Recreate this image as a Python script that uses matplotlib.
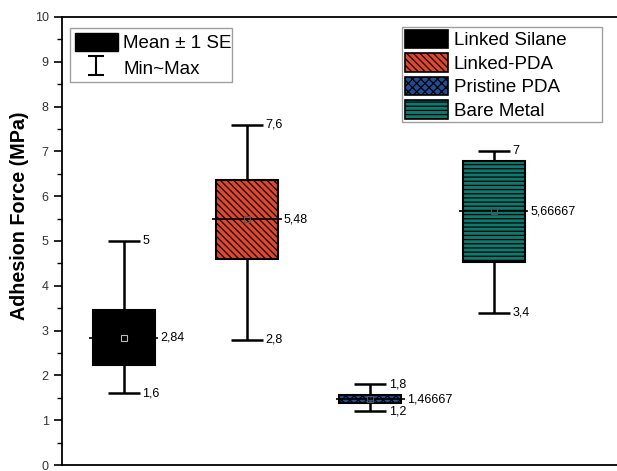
import matplotlib
matplotlib.use("Agg")
import matplotlib.pyplot as plt
from matplotlib.patches import Patch
from matplotlib.ticker import MultipleLocator

plt.rcParams['font.family'] = ['Liberation Sans', 'DejaVu Sans']
plt.rcParams['hatch.linewidth'] = 0.9

categories = ["Linked Silane", "Linked-PDA", "Pristine PDA", "Bare Metal"]
means = [2.84, 5.48, 1.46667, 5.66667]
se = [0.61, 0.88, 0.09, 1.13]
mins = [1.6, 2.8, 1.2, 3.4]
maxs = [5.0, 7.6, 1.8, 7.0]
mean_labels = ["2,84", "5,48", "1,46667", "5,66667"]
min_labels = ["1,6", "2,8", "1,2", "3,4"]
max_labels = ["5", "7,6", "1,8", "7"]
colors = ["#000000", "#E2462B", "#1E4E96", "#0D7A70"]
hatches = [None, "\\\\\\\\\\", "xxxx", "----"]

fig = plt.figure(figsize=(6.17, 4.71), dpi=100)
ax = fig.add_axes([62/617, 6/471, 1 - 62/617, 448/471])

positions = [1, 2, 3, 4]
box_w = 0.5
cap_w = 0.13
mean_ext = 0.28

for i, x in enumerate(positions):
    ax.vlines(x, mins[i], maxs[i], color='k', lw=1.8, zorder=1)
    ax.hlines([mins[i], maxs[i]], x - cap_w, x + cap_w, color='k', lw=1.8, zorder=1)
    ax.bar(x, 2 * se[i], bottom=means[i] - se[i], width=box_w,
           color=colors[i], edgecolor='k', linewidth=1.5, hatch=hatches[i], zorder=2)
    ax.hlines(means[i], x - mean_ext, x + mean_ext, color='k', lw=1.2, zorder=1.5 if i == 0 else 3)
    ax.plot(x, means[i], marker='s', ms=4, mfc='none',
            mec='#bbbbbb' if i == 0 else '#555555', mew=0.8, zorder=4)
    ax.text(x + mean_ext + 0.02, means[i], mean_labels[i], va='center', ha='left', fontsize=9)
    ax.text(x + cap_w + 0.02, mins[i], min_labels[i], va='center', ha='left', fontsize=9)
    ax.text(x + cap_w + 0.02, maxs[i], max_labels[i], va='center', ha='left', fontsize=9)

ax.set_xlim(0.5, 5.0)
ax.set_ylim(0, 10)
ax.yaxis.set_major_locator(MultipleLocator(1))
ax.yaxis.set_minor_locator(MultipleLocator(0.5))
ax.tick_params(axis='y', which='major', direction='out', length=6, width=1.2, labelsize=9,
               labelcolor='#333333')
ax.tick_params(axis='y', which='minor', direction='out', length=3.5, width=1.0)
ax.set_xticks([])
ax.spines['right'].set_visible(False)
for s in ['left', 'bottom', 'top']:
    ax.spines[s].set_linewidth(1.3)
ax.set_ylabel("Adhesion Force (MPa)", fontsize=14.2, fontweight='bold', va='center')
ax.yaxis.set_label_coords(-0.0757, 0.556)

# Legend 1
eb = ax.errorbar([-10], [0], yerr=[1], fmt='none', ecolor='k', capsize=6, elinewidth=1.5, capthick=1.5)
h1 = [Patch(facecolor='k', edgecolor='k'), eb]
leg1 = ax.legend(h1, ["Mean \u00b1 1 SE", "Min~Max"], loc='upper left', mode='expand',
                 bbox_to_anchor=(0.0144, 0.9754, 0.292, 0.0), fontsize=13.5, frameon=True,
                 fancybox=False, edgecolor='#888888', handlelength=2.3, handleheight=1.15,
                 labelspacing=0.3, borderpad=0.25, handletextpad=0.3, borderaxespad=0)
leg1.get_frame().set_linewidth(1.0)
ax.add_artist(leg1)

h2 = [Patch(facecolor=colors[i], edgecolor='k', hatch=hatches[i], linewidth=1.2) for i in range(4)]
leg2 = ax.legend(h2, categories, loc='upper left', mode='expand',
                 bbox_to_anchor=(0.6126, 0.9777, 0.3604, 0.0),
                 fontsize=13.5, frameon=True, fancybox=False, edgecolor='#888888',
                 handlelength=2.3, handleheight=1.15, labelspacing=0.2, borderpad=0.15,
                 handletextpad=0.3, borderaxespad=0)
leg2.get_frame().set_linewidth(1.0)

fig.savefig("out.png", dpi=100, facecolor='white')
